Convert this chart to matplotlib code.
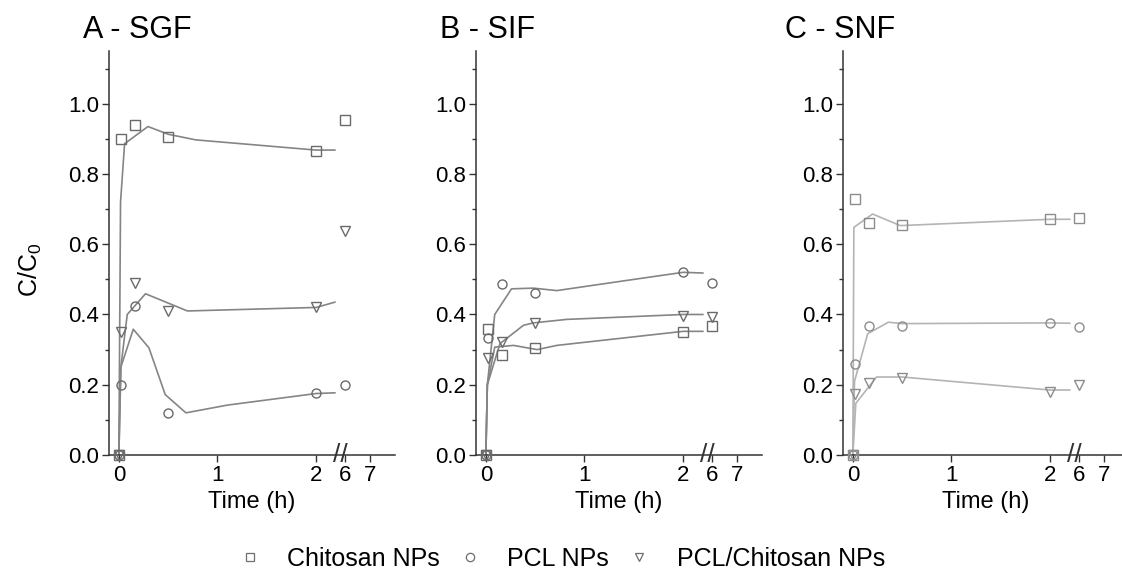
import numpy as np
import matplotlib
matplotlib.use("Agg")
import matplotlib.pyplot as plt
from matplotlib.ticker import MultipleLocator, FixedLocator
from matplotlib.lines import Line2D

plt.rcParams['font.family'] = ['Liberation Sans', 'DejaVu Sans']
plt.rcParams['mathtext.fontset'] = 'custom'
plt.rcParams['mathtext.rm'] = 'Liberation Sans'

# sampling times (h)
t_obs = [0, 0.017, 0.167, 0.5, 2, 6]

# A - SGF
sgf_chitosan = [0, 0.90, 0.939, 0.905, 0.866, 0.955]
sgf_pcl = [0, 0.20, 0.425, 0.12, 0.177, 0.20]
sgf_pcl_chit = [0, 0.35, 0.489, 0.409, 0.42, 0.639]

# B - SIF
sif_chitosan = [0, 0.36, 0.284, 0.305, 0.35, 0.367]
sif_pcl = [0, 0.334, 0.487, 0.462, 0.52, 0.489]
sif_pcl_chit = [0, 0.276, 0.323, 0.376, 0.397, 0.393]

# C - SNF
snf_chitosan = [0, 0.728, 0.66, 0.655, 0.671, 0.674]
snf_pcl = [0, 0.26, 0.367, 0.366, 0.375, 0.364]
snf_pcl_chit = [0, 0.175, 0.206, 0.218, 0.18, 0.199]

# fitted curves
sgf_chitosan_fit_t = [0, 0.017, 0.058, 0.295, 0.5, 0.78, 2, 2.19]
sgf_chitosan_fit = [0, 0.72, 0.886, 0.935, 0.913, 0.897, 0.868, 0.868]
sgf_pcl_fit_t = [0, 0.02, 0.146, 0.305, 0.47, 0.68, 1.1, 2, 2.19]
sgf_pcl_fit = [0, 0.25, 0.358, 0.305, 0.172, 0.12, 0.142, 0.175, 0.177]
sgf_pcl_chit_fit_t = [0, 0.02, 0.085, 0.27, 0.695, 2, 2.19]
sgf_pcl_chit_fit = [0, 0.25, 0.40, 0.459, 0.41, 0.42, 0.435]

sif_chitosan_fit_t = [0, 0.015, 0.09, 0.28, 0.52, 0.72, 2, 2.2]
sif_chitosan_fit = [0, 0.2, 0.307, 0.312, 0.30, 0.312, 0.352, 0.352]
sif_pcl_fit_t = [0, 0.015, 0.09, 0.26, 0.48, 0.72, 1.43, 2, 2.2]
sif_pcl_fit = [0, 0.2, 0.40, 0.473, 0.475, 0.468, 0.497, 0.52, 0.518]
sif_pcl_chit_fit_t = [0, 0.015, 0.143, 0.38, 0.48, 0.82, 2, 2.2]
sif_pcl_chit_fit = [0, 0.2, 0.317, 0.369, 0.376, 0.386, 0.40, 0.40]

snf_chitosan_fit_t = [0, 0.01, 0.2, 0.48, 2, 2.2]
snf_chitosan_fit = [0, 0.648, 0.686, 0.653, 0.671, 0.671]
snf_pcl_fit_t = [0, 0.017, 0.15, 0.36, 0.5, 2, 2.2]
snf_pcl_fit = [0, 0.21, 0.345, 0.378, 0.374, 0.376, 0.375]
snf_pcl_chit_fit_t = [0, 0.03, 0.24, 0.5, 2, 2.2]
snf_pcl_chit_fit = [0, 0.147, 0.222, 0.222, 0.185, 0.185]

panel_titles = ["A - SGF", "B - SIF", "C - SNF"]
series_labels = ["Chitosan NPs", "PCL NPs", "PCL/Chitosan NPs"]
series_markers = ["s", "o", "v"]
x_ticks = [0, 1, 2, 6, 7]


# broken time axis: 0-2.2 h full scale, then 6-8 h compressed
def fwd(x):
    x = np.asarray(x, dtype=float)
    return np.where(x <= 2.2, x,
                    np.where(x < 6, 2.2 + (x - 2.2) * (0.09 / 3.8),
                             2.29 + (x - 6) * 0.255))


def inv(y):
    y = np.asarray(y, dtype=float)
    return np.where(y <= 2.2, y,
                    np.where(y < 2.29, 2.2 + (y - 2.2) * (3.8 / 0.09),
                             6 + (y - 2.29) / 0.255))


panels = [
    ([sgf_chitosan, sgf_pcl, sgf_pcl_chit],
     [(sgf_chitosan_fit_t, sgf_chitosan_fit), (sgf_pcl_fit_t, sgf_pcl_fit),
      (sgf_pcl_chit_fit_t, sgf_pcl_chit_fit)]),
    ([sif_chitosan, sif_pcl, sif_pcl_chit],
     [(sif_chitosan_fit_t, sif_chitosan_fit), (sif_pcl_fit_t, sif_pcl_fit),
      (sif_pcl_chit_fit_t, sif_pcl_chit_fit)]),
    ([snf_chitosan, snf_pcl, snf_pcl_chit],
     [(snf_chitosan_fit_t, snf_chitosan_fit), (snf_pcl_fit_t, snf_pcl_fit),
      (snf_pcl_chit_fit_t, snf_pcl_chit_fit)]),
]

W, H = 1122, 579
fig = plt.figure(figsize=(W / 100, H / 100), dpi=100)

ax_left_px = [109, 476, 843]
title_left_px = [83, 440, 785]
line_colors = ["#858585", "#858585", "#b4b4b4"]
marker_colors = ["#6a6a6a", "#6a6a6a", "#8c8c8c"]

for i, (obs, fits) in enumerate(panels):
    ax = fig.add_axes([ax_left_px[i] / W, 1 - 455 / H, 286 / W, 404 / H])
    ax.set_xscale('function', functions=(fwd, inv))
    ax.set_xlim(-0.1, 8)
    ax.set_ylim(0, 1.15)

    for (ft, fv) in fits:
        ax.plot(ft, fv, color=line_colors[i], lw=1.2, zorder=2)
    for vals, m in zip(obs, series_markers):
        ax.plot(t_obs, vals, ls='none', marker=m, ms=7 if m == 'v' else 6.5,
                mfc='none', mec=marker_colors[i], mew=1.0, clip_on=False, zorder=3)

    ax.spines['top'].set_visible(False)
    ax.spines['right'].set_visible(False)
    for s in ['left', 'bottom']:
        ax.spines[s].set_color('#333333')
        ax.spines[s].set_linewidth(1.1)

    ax.xaxis.set_major_locator(FixedLocator(x_ticks))
    ax.xaxis.set_minor_locator(FixedLocator([]))
    ax.set_xticklabels([str(t) for t in x_ticks])
    ax.yaxis.set_major_locator(MultipleLocator(0.2))
    ax.yaxis.set_minor_locator(MultipleLocator(0.1))
    ax.yaxis.set_major_formatter(plt.FormatStrFormatter('%.1f'))
    ax.tick_params(which='major', direction='out', length=5, width=1.0,
                   color='#333333', labelsize=16, pad=2)
    ax.tick_params(which='minor', direction='out', length=3, width=1.0,
                   color='#333333')

    ax.set_xlabel("Time (h)", fontsize=17, labelpad=4)

    # axis break mark
    ax.text(4, 0, "//", fontsize=19, ha='center', va='center',
            transform=ax.transData, clip_on=False, color='#333333')

    fig.text(title_left_px[i] / W, 1 - 30 / H, panel_titles[i], fontsize=22,
             ha='left', va='center')

fig.text(30 / W, 1 - 270 / H, r"C/C$_\mathregular{0}$", fontsize=18,
         rotation=90, ha='center', va='center')

handles = [Line2D([], [], ls='none', marker=m, ms=6, mfc='none', mec='#6e6e6e',
                  mew=0.9) for m in series_markers]
fig.legend(handles, series_labels, loc='lower center', ncol=3, frameon=False,
           fontsize=18, bbox_to_anchor=(0.5, -0.012), handlelength=1.0,
           handletextpad=1.0, columnspacing=0.7, borderaxespad=0.2)

fig.savefig("out.png", dpi=100)
